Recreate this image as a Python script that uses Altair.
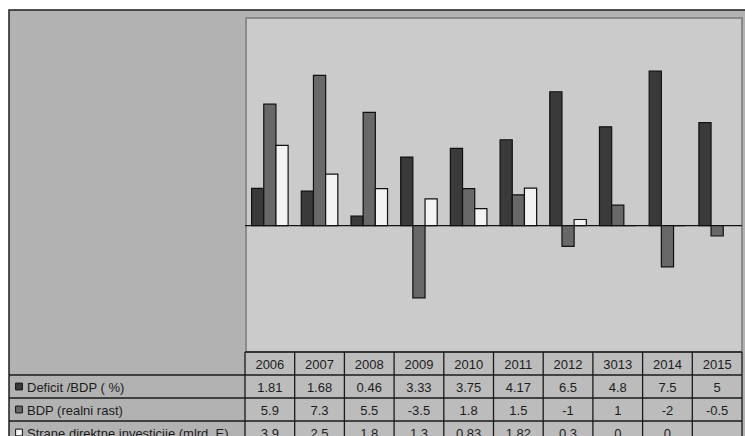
import altair as alt
import pandas as pd

# Column headers of the data table (as printed) and the three series
years = ["2006", "2007", "2008", "2009", "2010", "2011", "2012", "3013", "2014", "2015"]
series_keys = ["deficit", "bdp", "sdi"]
series_names = ["Deficit /BDP ( %)", "BDP (realni rast)", "Strane direktne investicije (mlrd. E)"]
series_colors = ["#3a3a3a", "#686868", "#f3f3f3"]

deficit = [1.81, 1.68, 0.46, 3.33, 3.75, 4.17, 6.5, 4.8, 7.5, 5]
bdp = [5.9, 7.3, 5.5, -3.5, 1.8, 1.5, -1, 1, -2, -0.5]
sdi = [3.9, 2.5, 1.8, 1.3, 0.83, 1.82, 0.3, 0, 0, None]

# long table for the bars
rows = []
for key, vals in zip(series_keys, [deficit, bdp, sdi]):
    for yr, v in zip(years, vals):
        if v is not None:
            rows.append({"year": yr, "series": key, "value": v})
bars_df = pd.DataFrame(rows)

# text cells of the data table
def fmt(v):
    if v is None:
        return ""
    return f"{v:g}"

cells = [{"year": yr, "row": "hdr", "label": yr} for yr in years]
for key, vals in zip(series_keys, [deficit, bdp, sdi]):
    for yr, v in zip(years, vals):
        cells.append({"year": yr, "row": key, "label": fmt(v)})
cells_df = pd.DataFrame(cells)

labels_df = pd.DataFrame({"row": series_keys, "name": series_names, "series": series_keys})

FONT = "Liberation Sans"
TEXT_COLOR = "#1c1c1c"
x_scale = alt.Scale(domain=years, range=[245, 742], paddingInner=0, paddingOuter=0)
y_scale = alt.Scale(domain=[-6.13, 10.08], range=[352, 18], nice=False, zero=False)
row_scale = alt.Scale(domain=["hdr"] + series_keys, range=[352, 444], paddingInner=0, paddingOuter=0)
color_scale = alt.Scale(domain=series_keys, range=series_colors)
one = pd.DataFrame({"k": [0]})

# outer frame and panel backgrounds
frame = alt.Chart(one).mark_rect(fill="#b2b2b2", stroke="#1e1e1e", strokeWidth=1.5).encode(
    x=alt.value(9), x2=alt.value(770), y=alt.value(10), y2=alt.value(460)
)
table_bg = alt.Chart(one).mark_rect(fill="#bcbcbc").encode(
    x=alt.value(245), x2=alt.value(742), y=alt.value(352), y2=alt.value(440)
)
plot_bg = alt.Chart(one).mark_rect(fill="#cbcbcb", stroke="#8a8a8a", strokeWidth=2).encode(
    x=alt.value(246), x2=alt.value(742), y=alt.value(18), y2=alt.value(352)
)

zero_line = alt.Chart(one).mark_rule(color="#111111", strokeWidth=1.2).encode(
    y=alt.Y(datum=0, scale=y_scale, axis=None),
    x=alt.value(245), x2=alt.value(742),
)

bars = alt.Chart(bars_df).mark_bar(stroke="#111111", strokeWidth=1.2).encode(
    x=alt.X("year:N", scale=x_scale, axis=None, sort=years),
    xOffset=alt.XOffset("series:N", scale=alt.Scale(domain=series_keys, paddingOuter=0.54, paddingInner=0)),
    y=alt.Y("value:Q", scale=y_scale, axis=None),
    y2=alt.Y2(datum=0),
    fill=alt.Fill("series:N", scale=color_scale, legend=None),
)

# table grid
vlines = alt.Chart(pd.DataFrame({"year": years})).mark_rule(color="#1a1a1a", strokeWidth=1.3).encode(
    x=alt.X("year:N", scale=x_scale, axis=None, bandPosition=0),
    y=alt.value(352), y2=alt.value(440),
)
vline_end = alt.Chart(pd.DataFrame({"year": [years[-1]]})).mark_rule(color="#1a1a1a", strokeWidth=1.3).encode(
    x=alt.X("year:N", scale=x_scale, axis=None, bandPosition=1),
    y=alt.value(352), y2=alt.value(440),
)
hline_hdr = alt.Chart(pd.DataFrame({"row": ["hdr"]})).mark_rule(color="#1a1a1a", strokeWidth=1.3).encode(
    y=alt.Y("row:N", scale=row_scale, axis=None, bandPosition=0),
    x=alt.value(245), x2=alt.value(742),
)
hlines = alt.Chart(pd.DataFrame({"row": series_keys})).mark_rule(color="#1a1a1a", strokeWidth=1.3).encode(
    y=alt.Y("row:N", scale=row_scale, axis=None, bandPosition=0),
    x=alt.value(9), x2=alt.value(742),
)

cell_text = alt.Chart(cells_df).mark_text(font=FONT, fontSize=13, color=TEXT_COLOR, baseline="middle", dy=1).encode(
    x=alt.X("year:N", scale=x_scale, axis=None),
    y=alt.Y("row:N", scale=row_scale, axis=None),
    text="label:N",
)

keys = alt.Chart(labels_df).mark_square(size=46, stroke="#111111", strokeWidth=1, opacity=1).encode(
    x=alt.value(19),
    y=alt.Y("row:N", scale=row_scale, axis=None),
    fill=alt.Fill("series:N", scale=color_scale, legend=None),
)
row_names = alt.Chart(labels_df).mark_text(font=FONT, fontSize=13, color=TEXT_COLOR, align="left", baseline="middle", dy=1).encode(
    x=alt.value(27),
    y=alt.Y("row:N", scale=row_scale, axis=None),
    text="name:N",
)

chart = alt.layer(
    frame, table_bg, plot_bg, zero_line, bars, vlines, vline_end, hline_hdr, hlines, cell_text, keys, row_names
).resolve_scale(y="independent").properties(
    width=745, height=436, padding=0, autosize=alt.AutoSizeParams(type="none"), background="white"
).configure_view(stroke=None)

chart.save("out.html", embed_options={"renderer": "svg", "actions": False})
